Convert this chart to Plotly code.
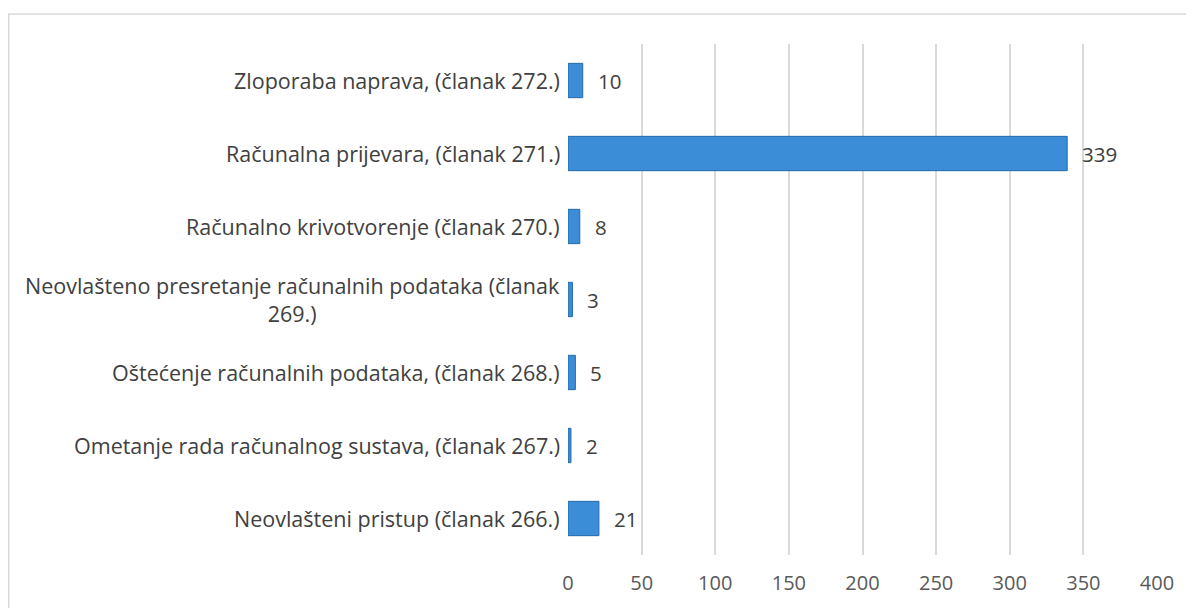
import plotly.graph_objects as go

categories = [
    "Neovlašteni pristup (članak 266.)",
    "Ometanje rada računalnog sustava, (članak 267.)",
    "Oštećenje računalnih podataka, (članak 268.)",
    "Neovlašteno presretanje računalnih podataka (članak<br>269.)",
    "Računalno krivotvorenje (članak 270.)",
    "Računalna prijevara, (članak 271.)",
    "Zloporaba naprava, (članak 272.)",
]
values = [21, 2, 5, 3, 8, 339, 10]
x_ticks = [0, 50, 100, 150, 200, 250, 300, 350, 400]

W, H = 1194, 608
ML, MR, MT, MB = 560, 45, 36, 61
pw, ph = W - ML - MR, H - MT - MB

FONT = "Open Sans"

fig = go.Figure()
fig.add_trace(go.Bar(
    y=categories, x=values, orientation="h",
    marker=dict(color="#3B8DD7", line=dict(color="#2468A8", width=1)),
    hoverinfo="x+y",
))

anns = []
for c, v in zip(categories, values):
    anns.append(dict(x=v, y=c, xref="x", yref="y", text=str(v), showarrow=False,
                     xanchor="left", xshift=13, font=dict(family=FONT, size=20.5, color="#404040")))
    anns.append(dict(x=0, y=c, xref="paper", yref="y", text=c, showarrow=False,
                     xanchor="right", align="center", xshift=-6,
                     font=dict(family=FONT, size=21.5, color="#404040")))

fig.update_layout(
    width=W, height=H,
    margin=dict(l=ML, r=MR, t=MT, b=MB, pad=0),
    paper_bgcolor="white", plot_bgcolor="white",
    bargap=0.53,
    showlegend=False,
    annotations=anns,
    xaxis=dict(range=[0, 400], tickvals=x_ticks, showgrid=True, gridcolor="#D9D9D9",
               gridwidth=1.5, zeroline=False, showline=False, ticks="",
               ticklabelstandoff=14,
               tickfont=dict(family=FONT, size=20, color="#595959")),
    yaxis=dict(showticklabels=False, showgrid=False, zeroline=False, showline=False,
               categoryorder="array", categoryarray=categories),
    shapes=[dict(type="rect", xref="paper", yref="paper",
                 x0=(0.75 - ML) / pw, x1=(1185 - ML) / pw,
                 y0=-0.3, y1=(H - 6 - MB) / ph,
                 line=dict(color="#D9D9D9", width=1.5), layer="below")],
)

fig.write_html("out.html")
